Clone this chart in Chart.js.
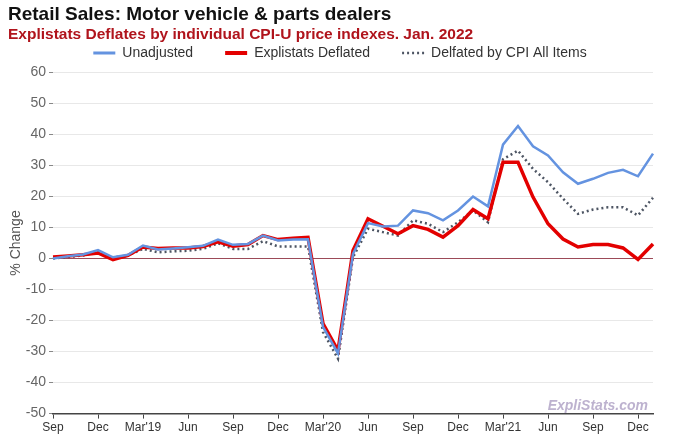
<!DOCTYPE html>
<html>
<head>
<meta charset="utf-8">
<script src="https://cdn.jsdelivr.net/npm/chart.js@4.4.1/dist/chart.umd.min.js"></script>
<style>
  html, body { margin: 0; padding: 0; background: #ffffff; }
  #wrap { width: 680px; height: 437px; position: relative; }
</style>
</head>
<body>
<div id="wrap"><canvas id="c" width="680" height="437"></canvas></div>
<script>
// Monthly categories: Sep 2018 .. Jan 2022
const months = [
  "2018-09","2018-10","2018-11","2018-12",
  "2019-01","2019-02","2019-03","2019-04","2019-05","2019-06","2019-07","2019-08","2019-09","2019-10","2019-11","2019-12",
  "2020-01","2020-02","2020-03","2020-04","2020-05","2020-06","2020-07","2020-08","2020-09","2020-10","2020-11","2020-12",
  "2021-01","2021-02","2021-03","2021-04","2021-05","2021-06","2021-07","2021-08","2021-09","2021-10","2021-11","2021-12",
  "2022-01"
];
// Tick labels shown every third month
const tickLabels = ["Sep","Dec","Mar'19","Jun","Sep","Dec","Mar'20","Jun","Sep","Dec","Mar'21","Jun","Sep","Dec"];

const unadjusted = [0, 0.7, 1.3, 2.7, 0.4, 1.2, 4.2, 2.9, 3.2, 3.6, 4.1, 6.1, 4.4, 4.7, 7.4, 5.8, 6.1, 6.2,
  -22, -30.6, 1.5, 11.4, 10.3, 10.6, 15.5, 14.6, 12.3, 15.5, 20, 16.8, 36.7, 42.7, 36.2, 33.2, 27.8, 24.1, 25.7, 27.6, 28.6, 26.5, 33.8];
const explistatsDeflated = [0.5, 0.8, 1.2, 1.8, -0.4, 1.0, 3.7, 3.2, 3.4, 3.4, 3.9, 5.4, 4.0, 4.5, 7.4, 6.1, 6.5, 6.8,
  -21, -29.7, 2.6, 12.8, 10.4, 8.0, 10.6, 9.4, 6.9, 10.6, 15.8, 12.8, 31.0, 31.0, 19.8, 11.2, 6.3, 3.7, 4.5, 4.5, 3.4, -0.3, 4.7];
const cpiDeflated = [0, 0.5, 1.0, 2.1, 0.3, 1.0, 3.1, 2.0, 2.3, 2.5, 3.1, 4.9, 3.1, 3.1, 5.6, 3.9, 3.9, 3.9,
  -23.7, -32.3, 0.4, 9.6, 8.5, 7.4, 12.3, 11.2, 8.5, 11.7, 15.5, 11.7, 32.0, 34.8, 28.9, 24.6, 19.3, 14.4, 15.8, 16.5, 16.5, 13.9, 19.6];

const titleText = "Retail Sales: Motor vehicle & parts dealers";
const subtitleText = "Explistats Deflates by individual CPI-U price indexes. Jan. 2022";
const watermarkText = "ExpliStats.com";

const FONT = "Arial, 'Liberation Sans', sans-serif";

// Centre the legend on the whole canvas and lift it to sit just under the subtitle
const legendPlacement = {
  id: 'legendPlacement',
  beforeDraw(chart) {
    const lg = chart.legend;
    if (!lg) return;
    lg.left = 0;
    lg.right = chart.width;
    lg.top = 14;
  }
};

const watermark = {
  id: 'watermark',
  afterDraw(chart) {
    const ctx = chart.ctx;
    const area = chart.chartArea;
    ctx.save();
    ctx.font = "italic bold 14px " + FONT;
    ctx.fillStyle = "#bdb2cf";
    ctx.textAlign = "right";
    ctx.textBaseline = "alphabetic";
    ctx.fillText(watermarkText, area.right - 5, area.bottom - 4);
    ctx.restore();
  }
};

const legendLineWidths = [3, 4, 2.5];

new Chart(document.getElementById('c'), {
  type: 'line',
  data: {
    labels: months,
    datasets: [
      { label: 'Unadjusted', data: unadjusted, borderColor: '#6493e0', backgroundColor: '#6493e0',
        borderWidth: 2.5, pointRadius: 0, tension: 0 },
      { label: 'Explistats Deflated', data: explistatsDeflated, borderColor: '#e30000', backgroundColor: '#e30000',
        borderWidth: 3.5, pointRadius: 0, tension: 0 },
      { label: 'Delfated by CPI All Items', data: cpiDeflated, borderColor: '#4d5563', backgroundColor: '#4d5563',
        borderWidth: 2.5, borderDash: [2, 3], pointRadius: 0, tension: 0 }
    ]
  },
  options: {
    responsive: false,
    animation: false,
    devicePixelRatio: 1,
    layout: { padding: { left: 8, right: 27, top: 3, bottom: 0 } },
    plugins: {
      title: { display: true, text: titleText, align: 'start', color: '#111',
        font: { family: FONT, size: 19, weight: 'bold' }, padding: { top: 0, bottom: 0 } },
      subtitle: { display: true, text: subtitleText, align: 'start', color: '#b0141c',
        font: { family: FONT, size: 15.5, weight: 'bold' }, padding: { top: 0, bottom: 0 } },
      legend: {
        display: true, position: 'top', align: 'center', maxHeight: 28,
        labels: {
          usePointStyle: true, pointStyle: 'line', pointStyleWidth: 22, boxHeight: 3,
          color: '#333', font: { family: FONT, size: 14 }, padding: 32,
          generateLabels(chart) {
            const items = Chart.defaults.plugins.legend.labels.generateLabels(chart);
            items.forEach((it) => {
              const ds = chart.data.datasets[it.datasetIndex];
              it.lineDash = ds.borderDash || [];
              it.lineWidth = legendLineWidths[it.datasetIndex];
              it.strokeStyle = ds.borderColor;
              it.pointStyle = 'line';
            });
            return items;
          }
        }
      },
      tooltip: { enabled: false }
    },
    scales: {
      x: {
        type: 'category',
        offset: false,
        grid: { display: true, drawOnChartArea: false, drawTicks: true, tickLength: 5, tickColor: '#444' },
        border: { display: true, color: '#444', width: 1.5 },
        ticks: {
          autoSkip: false, maxRotation: 0, minRotation: 0, padding: 2,
          color: '#333', font: { family: FONT, size: 12 },
          callback: function(value, index) { return index % 3 === 0 ? tickLabels[index / 3] : null; }
        }
      },
      y: {
        min: -50, max: 60,
        afterFit(scale) { scale.width = 45; },
        grid: {
          color: function(c) { return c.tick && c.tick.value === 0 ? '#9c4a58' : '#e8e8e8'; },
          lineWidth: 1, drawTicks: true, tickLength: 4, tickColor: '#888'
        },
        border: { display: false },
        ticks: { stepSize: 10, color: '#666', padding: 3, font: { family: FONT, size: 14 } },
        title: { display: true, text: '% Change', color: '#555', font: { family: FONT, size: 14 }, padding: 0 }
      }
    }
  },
  plugins: [legendPlacement, watermark]
});
</script>
</body>
</html>
